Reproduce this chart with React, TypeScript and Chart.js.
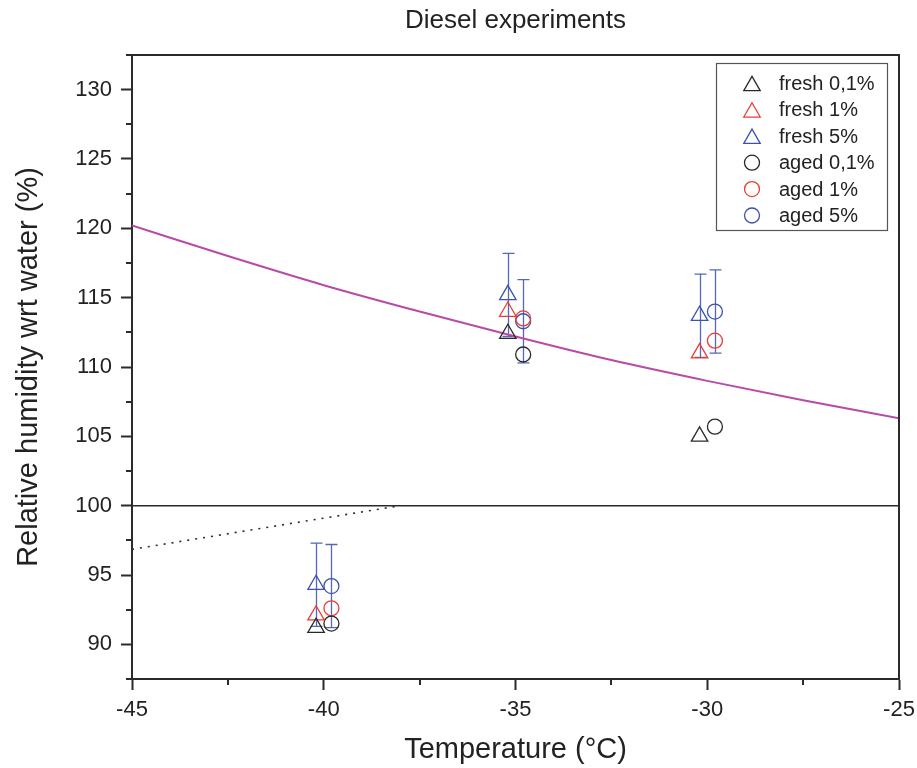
import React, { useEffect, useRef } from 'react';
import { Chart, registerables } from 'chart.js';

Chart.register(...registerables);

const FONT = "'Liberation Sans', Arial, Helvetica, sans-serif";

// ---- data ----
const chartTitle = 'Diesel experiments';
const xTicks = [-45, -40, -35, -30, -25];
const yTicks = [90, 95, 100, 105, 110, 115, 120, 125, 130];
const xMinor = [-42.5, -37.5, -32.5, -27.5];
const yMinor = [87.5, 92.5, 97.5, 102.5, 107.5, 112.5, 117.5, 122.5, 127.5, 132.5];

const freshT = [-40.2, -35.2, -30.2];
const agedT = [-39.8, -34.8, -29.8];

const fresh01 = [91.2, 112.4, 105.0];
const fresh1 = [92.1, 114.0, 111.0];
const fresh5 = [94.3, 115.2, 113.7];
const aged01 = [91.5, 110.9, 105.7];
const aged1 = [92.6, 113.5, 111.9];
const aged5 = [94.2, 113.3, 114.0];

const fresh5Err = [3.0, 3.0, 3.0];
const aged5Err = [3.0, 3.0, 3.0];

const curveT = [-45, -42.5, -40, -37.5, -35, -32.5, -30, -27.5, -25];
const curveRH = [120.2, 118.0, 115.9, 114.0, 112.2, 110.5, 109.0, 107.6, 106.3];

const waterT = [-45, -25];
const waterRH = [100, 100];

const dottedT = [-45, -38];
const dottedRH = [96.85, 100];

const BLACK = '#2a2a2a';
const RED = '#ee3b32';
const BLUE = '#3c52ad';
const ERR_BLUE = '#5467b8';
const MAGENTA = '#b84aa8';
const AXIS = '#2b2b2b';

const pts = (xs: number[], ys: number[]) => xs.map((x, i) => ({ x, y: ys[i] }));

const markerSeries = [
  { label: 'fresh 0,1%', xs: freshT, ys: fresh01, color: BLACK, style: 'triangle', err: null as number[] | null },
  { label: 'fresh 1%', xs: freshT, ys: fresh1, color: RED, style: 'triangle', err: null },
  { label: 'fresh 5%', xs: freshT, ys: fresh5, color: BLUE, style: 'triangle', err: fresh5Err },
  { label: 'aged 0,1%', xs: agedT, ys: aged01, color: BLACK, style: 'circle', err: null },
  { label: 'aged 1%', xs: agedT, ys: aged1, color: RED, style: 'circle', err: null },
  { label: 'aged 5%', xs: agedT, ys: aged5, color: BLUE, style: 'circle', err: aged5Err },
];

const TRI_R = 9.5;
const CIRC_R = 7.5;

function drawMarker(ctx: CanvasRenderingContext2D, style: string, x: number, y: number, color: string) {
  ctx.save();
  ctx.strokeStyle = color;
  ctx.lineWidth = 1.3;
  ctx.beginPath();
  if (style === 'triangle') {
    const r = TRI_R;
    const cy = y + r * 0.25;
    ctx.moveTo(x, cy - r);
    ctx.lineTo(x + r * 0.866, cy + r / 2);
    ctx.lineTo(x - r * 0.866, cy + r / 2);
    ctx.closePath();
  } else {
    ctx.arc(x, y, CIRC_R, 0, Math.PI * 2);
  }
  ctx.stroke();
  ctx.restore();
}

const errorBarPlugin = {
  id: 'errorBars',
  beforeDatasetsDraw(chart: any) {
    const { ctx, scales } = chart;
    const x = scales.x, y = scales.y;
    ctx.save();
    ctx.strokeStyle = ERR_BLUE;
    ctx.lineWidth = 1.3;
    chart.data.datasets.forEach((ds: any) => {
      if (!ds.errors) return;
      ds.data.forEach((p: any, i: number) => {
        const e = ds.errors[i];
        const px = Math.round(x.getPixelForValue(p.x)) + 0.5;
        const top = y.getPixelForValue(p.y + e);
        const bot = y.getPixelForValue(p.y - e);
        ctx.beginPath();
        ctx.moveTo(px, top);
        ctx.lineTo(px, bot);
        ctx.moveTo(px - 6, top);
        ctx.lineTo(px + 6, top);
        ctx.moveTo(px - 6, bot);
        ctx.lineTo(px + 6, bot);
        ctx.stroke();
      });
    });
    ctx.restore();
  },
};

const framePlugin = {
  id: 'frame',
  afterDraw(chart: any) {
    const { ctx, chartArea: a, scales } = chart;
    ctx.save();
    ctx.strokeStyle = AXIS;
    ctx.lineWidth = 2;
    ctx.beginPath();
    ctx.moveTo(a.left, a.top);
    ctx.lineTo(a.right, a.top);
    ctx.lineTo(a.right, a.bottom);
    ctx.stroke();
    ctx.beginPath();
    xMinor.forEach((v) => {
      const px = Math.round(scales.x.getPixelForValue(v));
      ctx.moveTo(px, a.bottom);
      ctx.lineTo(px, a.bottom + 6);
    });
    yMinor.forEach((v) => {
      const py = Math.round(scales.y.getPixelForValue(v));
      ctx.moveTo(a.left, py);
      ctx.lineTo(a.left - 6, py);
    });
    ctx.stroke();
    ctx.font = `26px ${FONT}`;
    ctx.fillStyle = '#222';
    ctx.textAlign = 'center';
    ctx.textBaseline = 'middle';
    ctx.fillText(chartTitle, (a.left + a.right) / 2, 21);
    ctx.restore();
  },
};

const legendPlugin = {
  id: 'boxLegend',
  afterDraw(chart: any) {
    const { ctx, chartArea: a } = chart;
    const w = 171, h = 167;
    const left = a.right - 12 - w;
    const top = a.top + 8;
    ctx.save();
    ctx.strokeStyle = '#555';
    ctx.lineWidth = 1.2;
    ctx.strokeRect(left + 0.5, top + 0.5, w, h);
    ctx.font = `20px ${FONT}`;
    ctx.fillStyle = '#222';
    ctx.textBaseline = 'middle';
    ctx.textAlign = 'left';
    markerSeries.forEach((s, i) => {
      const cy = top + 20.5 + i * 26.4;
      drawMarker(ctx, s.style, left + 36, cy, s.color);
      ctx.fillText(s.label, left + 63, cy + 1);
    });
    ctx.restore();
  },
};

export default function App() {
  const ref = useRef<HTMLCanvasElement>(null);
  useEffect(() => {
    document.body.style.margin = '0';
    const canvas = ref.current!;
    const tickFont = { family: FONT, size: 22 };
    const chart = new Chart(canvas, {
      type: 'scatter',
      data: {
        datasets: [
          ...markerSeries.map((s) => ({
            label: s.label,
            data: pts(s.xs, s.ys),
            pointStyle: s.style,
            pointRadius: s.style === 'triangle' ? TRI_R : CIRC_R,
            borderColor: s.color,
            backgroundColor: 'rgba(0,0,0,0)',
            pointBorderWidth: 1.3,
            showLine: false,
            errors: s.err,
          })),
          {
            label: 'curve',
            data: pts(curveT, curveRH),
            showLine: true,
            borderColor: MAGENTA,
            borderWidth: 2,
            pointRadius: 0,
            cubicInterpolationMode: 'monotone',
          },
          {
            label: 'water',
            data: pts(waterT, waterRH),
            showLine: true,
            borderColor: BLACK,
            borderWidth: 1.5,
            pointRadius: 0,
          },
          {
            label: 'ice',
            data: pts(dottedT, dottedRH),
            showLine: true,
            borderColor: BLACK,
            borderWidth: 1.6,
            borderDash: [2, 6],
            pointRadius: 0,
          },
        ] as any,
      },
      options: {
        responsive: false,
        animation: false,
        devicePixelRatio: 1,
        layout: { padding: { left: 0, right: 18, top: 55, bottom: 0 } },
        plugins: {
          legend: { display: false },
          tooltip: { enabled: false },
          title: { display: false },
        },
        scales: {
          x: {
            type: 'linear',
            min: -45,
            max: -25,
            afterBuildTicks: (scale: any) => {
              scale.ticks = xTicks.map((v) => ({ value: v }));
            },
            afterFit: (scale: any) => {
              scale.height = 89;
              scale.paddingLeft = 0;
              scale.paddingRight = 0;
            },
            ticks: {
              font: tickFont,
              color: '#222',
              padding: 7,
              maxRotation: 0,
              callback: (v: any) => String(v),
            },
            grid: {
              drawOnChartArea: false,
              drawTicks: true,
              tickLength: 11,
              tickWidth: 2,
              tickColor: AXIS,
            },
            border: { display: true, width: 2, color: AXIS },
            title: {
              display: true,
              text: 'Temperature (°C)',
              color: '#222',
              font: { family: FONT, size: 29 },
              padding: { top: 0, bottom: 1 },
            },
          },
          y: {
            type: 'linear',
            min: 87.5,
            max: 132.5,
            afterBuildTicks: (scale: any) => {
              scale.ticks = yTicks.map((v) => ({ value: v }));
            },
            afterFit: (scale: any) => {
              scale.width = 132;
              scale.paddingTop = 0;
              scale.paddingBottom = 0;
            },
            ticks: {
              font: tickFont,
              color: '#222',
              padding: 9,
              callback: (v: any) => String(v),
            },
            grid: {
              drawOnChartArea: false,
              drawTicks: true,
              tickLength: 11,
              tickWidth: 2,
              tickColor: AXIS,
            },
            border: { display: true, width: 2, color: AXIS },
            title: {
              display: true,
              text: 'Relative humidity wrt water (%)',
              color: '#222',
              font: { family: FONT, size: 29 },
              padding: { top: 12, bottom: 0 },
            },
          },
        },
      } as any,
      plugins: [errorBarPlugin, framePlugin, legendPlugin],
    });
    return () => chart.destroy();
  }, []);
  return (
    <div style={{ width: 917, height: 768 }}>
      <canvas ref={ref} width={917} height={768} style={{ display: 'block' }} />
    </div>
  );
}
